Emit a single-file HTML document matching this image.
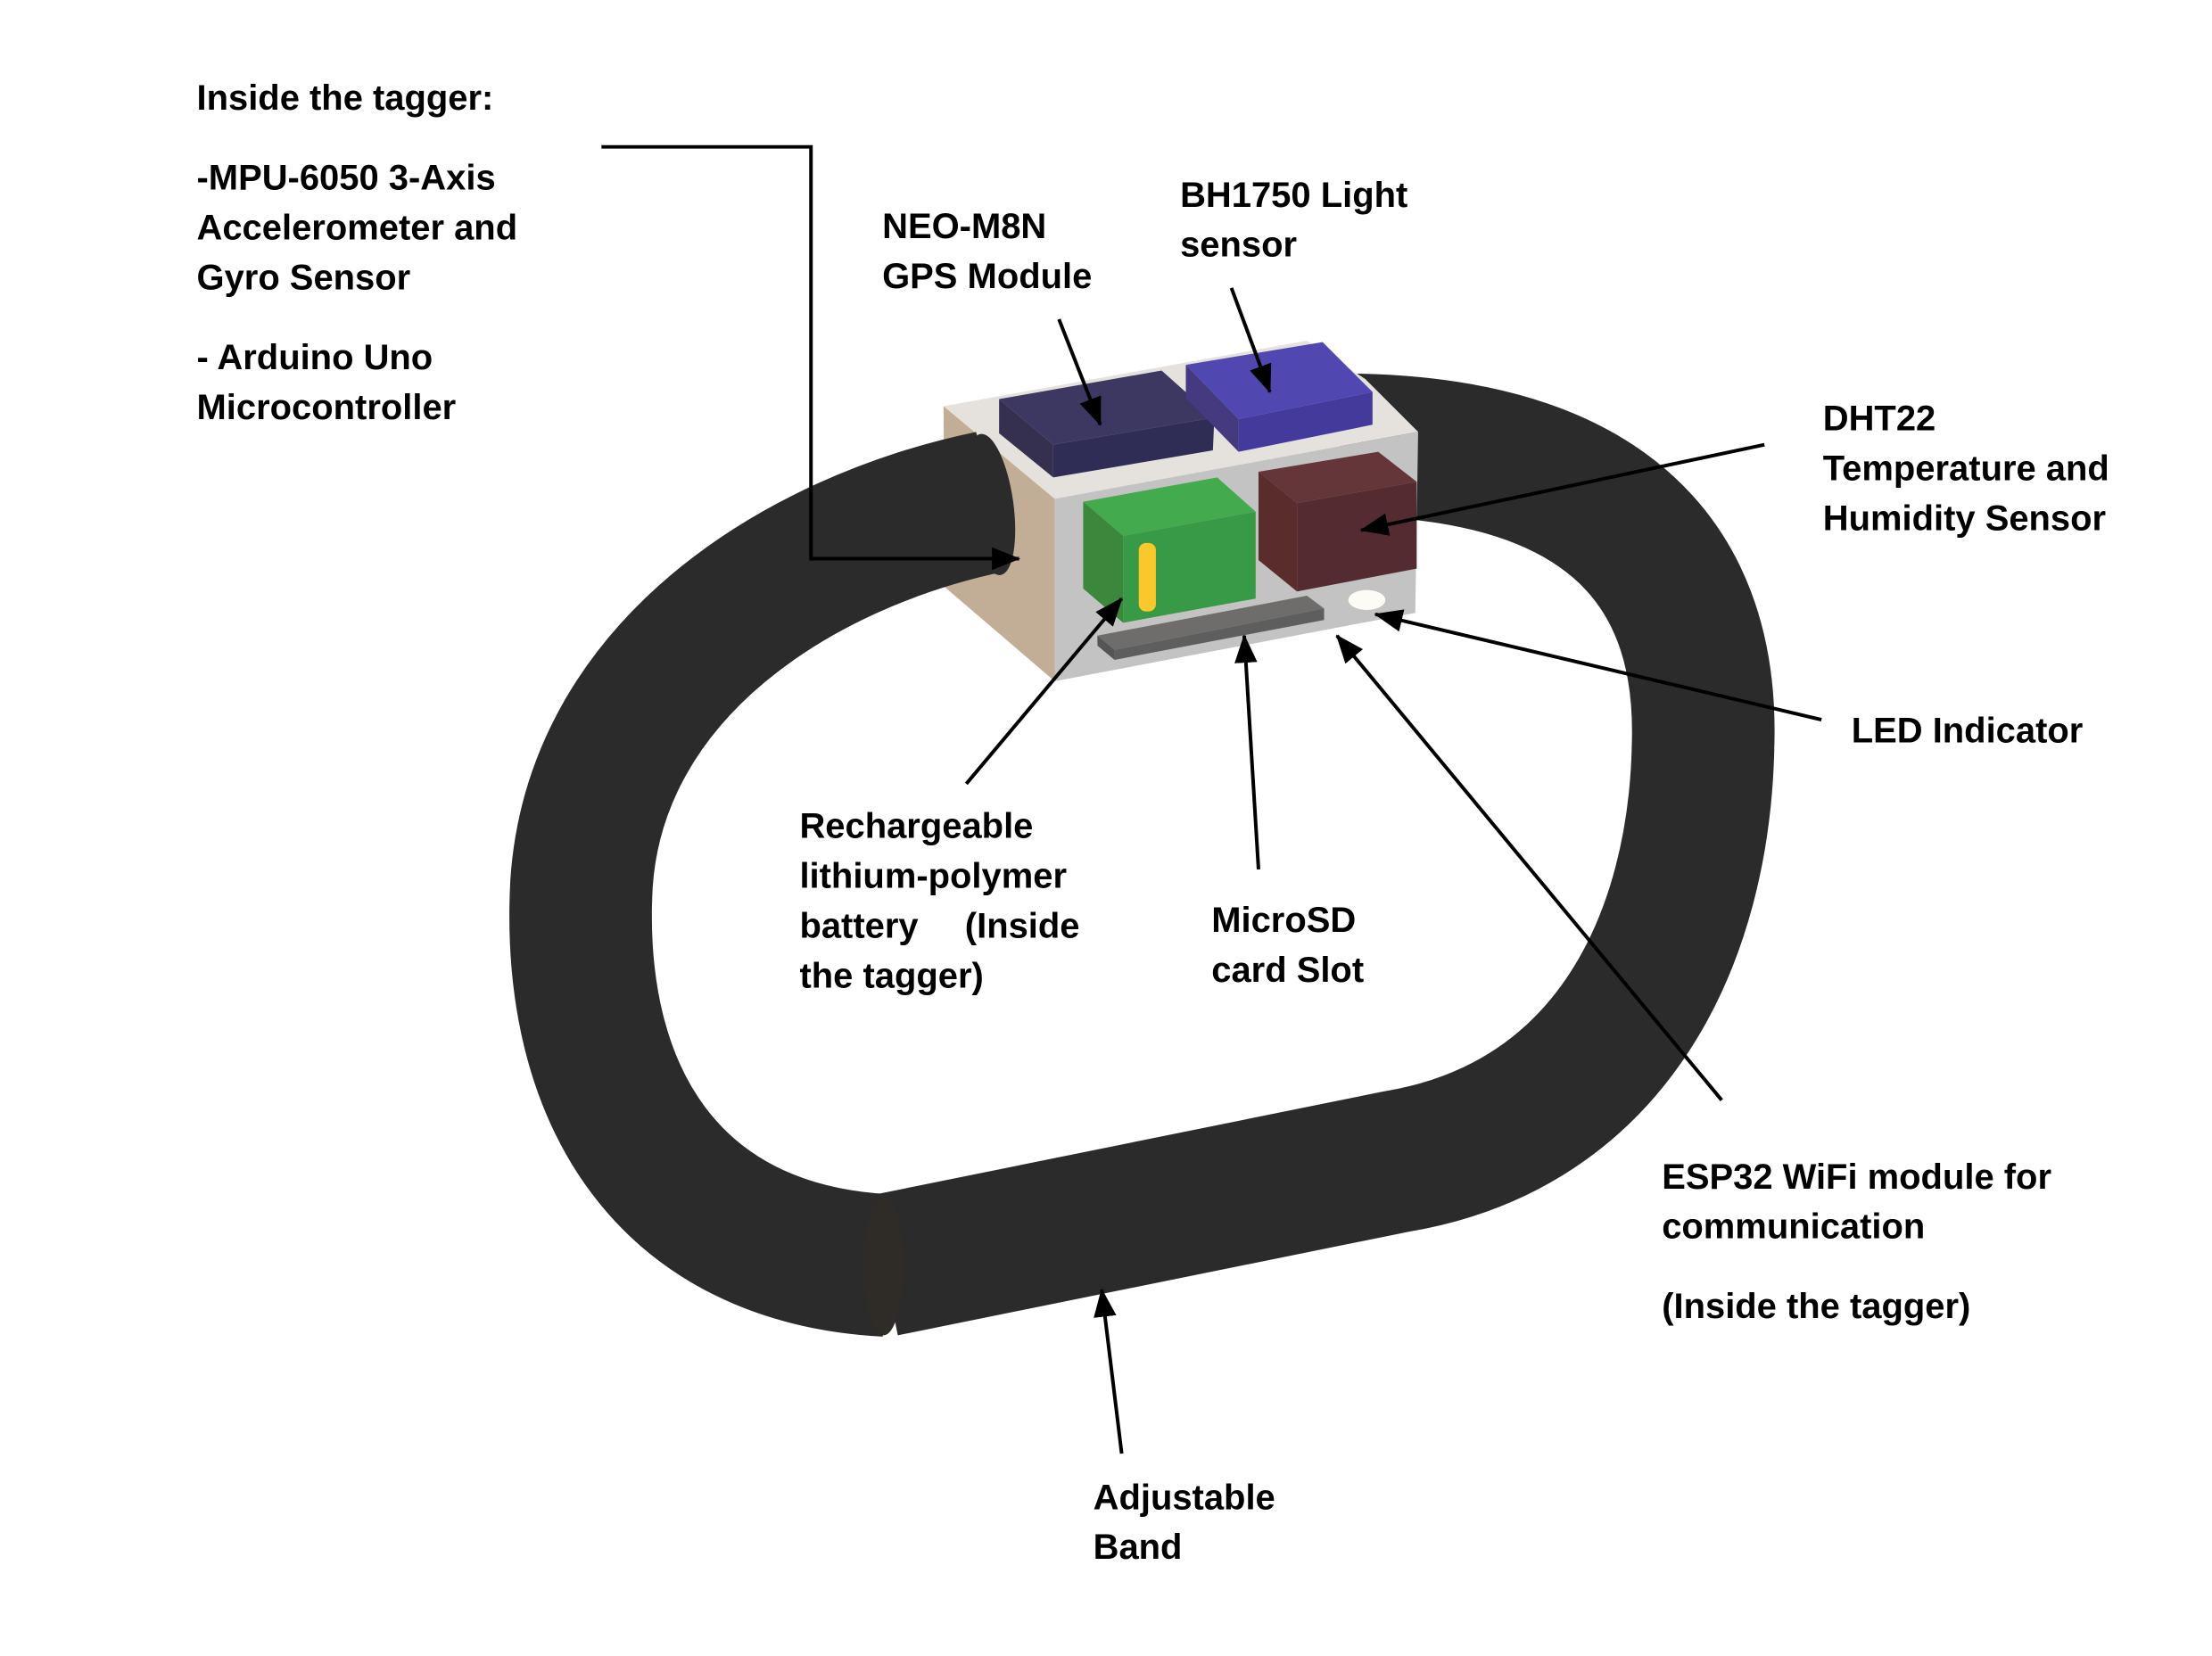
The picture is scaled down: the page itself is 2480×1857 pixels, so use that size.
<!DOCTYPE html>
<html><head><meta charset="utf-8"><style>
html,body{margin:0;padding:0;background:#fff;}
svg{display:block;}
text{font-family:"Liberation Sans",sans-serif;font-weight:bold;font-size:25px;fill:#000;}
</style></head><body>
<svg width="2480" height="1857" viewBox="0 0 1552 1162" xmlns="http://www.w3.org/2000/svg">
<defs>
<marker id="a" viewBox="0 0 20 16" refX="19" refY="8" markerWidth="20" markerHeight="16" orient="auto" markerUnits="userSpaceOnUse"><path d="M0,0 L20,8 L0,16 Z" fill="#000"/></marker>
</defs>
<rect width="1552" height="1162" fill="#fff"/>
<!-- band right half (behind box) -->
<path d="M 620 888 L 980 815 C 1130 790, 1193 660, 1195 520 C 1198 390, 1120 312, 940 312" fill="none" stroke="#2b2b2b" stroke-width="100"/>
<!-- box -->
<polygon points="662,285 917,239 958,266 995,303 740,350" fill="#e5e2de"/>
<polygon points="662,285 740,350 740,478 663,412" fill="#c2ae96"/>
<polygon points="740,350 995,303 993,430 740,478" fill="#c3c3c3"/>
<!-- band left half (over side face) -->
<path d="M 622 888 C 470 880, 400 770, 408 620 C 418 470, 560 380, 695 352" fill="none" stroke="#2b2b2b" stroke-width="100"/>
<ellipse cx="695" cy="354" rx="16" ry="50" fill="#2b2b2b" transform="rotate(-8 695 354)"/>
<ellipse cx="620" cy="888" rx="14" ry="49" fill="#2f2c28"/>
<!-- NEO -->
<polygon points="701,280 815,260 852,293 739,312" fill="#3c3862"/>
<polygon points="739,312 852,293 851,316 739,335" fill="#2f2c55"/>
<polygon points="701,280 739,312 739,335 701,304" fill="#35304f"/>
<!-- BH1750 -->
<polygon points="832,256 928,240 963,275 869,294" fill="#5048b0"/>
<polygon points="869,294 963,275 963,298 869,317" fill="#433a9c"/>
<polygon points="832,256 869,294 869,317 832,279" fill="#45397f"/>
<!-- green -->
<polygon points="760,352 854,335 881,359 788,376" fill="#43aa4e"/>
<polygon points="788,376 881,359 881,420 788,437" fill="#389a46"/>
<polygon points="760,352 788,376 788,437 760,413" fill="#3b873b"/>
<rect x="799" y="381" width="12" height="48" rx="5" fill="#f9c82c"/>
<!-- maroon -->
<polygon points="883,331 967,317 994,338 910,353" fill="#643639"/>
<polygon points="910,353 994,338 994,399 910,415" fill="#532b31"/>
<polygon points="883,331 910,353 910,415 883,393" fill="#5a2d2d"/>
<!-- slot -->
<polygon points="770,446 917,418 929,427 782,456" fill="#6e6d6b"/>
<polygon points="782,456 929,427 929,435 782,463" fill="#5e5e5e"/>
<polygon points="770,446 782,456 782,463 770,453" fill="#555"/>
<ellipse cx="959" cy="421" rx="13" ry="7" fill="#fdfbf6"/>
<!-- connectors -->
<g stroke="#000" stroke-width="2.5" fill="none">
<path d="M422,103 L569,103 L569,392 L715,392" marker-end="url(#a)"/>
<line x1="743" y1="224" x2="772" y2="298" marker-end="url(#a)"/>
<line x1="864" y1="202" x2="891" y2="275" marker-end="url(#a)"/>
<line x1="1238" y1="312" x2="955" y2="372" marker-end="url(#a)"/>
<line x1="1278" y1="505" x2="965" y2="431" marker-end="url(#a)"/>
<line x1="1208" y1="772" x2="938" y2="446" marker-end="url(#a)"/>
<line x1="883" y1="610" x2="873" y2="446" marker-end="url(#a)"/>
<line x1="678" y1="550" x2="787" y2="420" marker-end="url(#a)"/>
<line x1="787" y1="1020" x2="773" y2="905" marker-end="url(#a)"/>
</g>
<!-- labels -->
<text x="138" y="77">Inside the tagger:</text>
<text x="138" y="133">-MPU-6050 3-Axis</text>
<text x="138" y="168">Accelerometer and</text>
<text x="138" y="203">Gyro Sensor</text>
<text x="138" y="259">- Arduino Uno</text>
<text x="138" y="294">Microcontroller</text>
<text x="619" y="167">NEO-M8N</text>
<text x="619" y="202">GPS Module</text>
<text x="828" y="145">BH1750 Light</text>
<text x="828" y="180">sensor</text>
<text x="1279" y="302">DHT22</text>
<text x="1279" y="337">Temperature and</text>
<text x="1279" y="372">Humidity Sensor</text>
<text x="1299" y="521">LED Indicator</text>
<text x="561" y="588">Rechargeable</text>
<text x="561" y="623">lithium-polymer</text>
<text x="561" y="658">battery</text><text x="677" y="658">(Inside</text>
<text x="561" y="693">the tagger)</text>
<text x="850" y="654">MicroSD</text>
<text x="850" y="689">card Slot</text>
<text x="1166" y="834">ESP32 WiFi module for</text>
<text x="1166" y="869">communication</text>
<text x="1166" y="925">(Inside the tagger)</text>
<text x="767" y="1059">Adjustable</text>
<text x="767" y="1094">Band</text>
</svg>
</body></html>
